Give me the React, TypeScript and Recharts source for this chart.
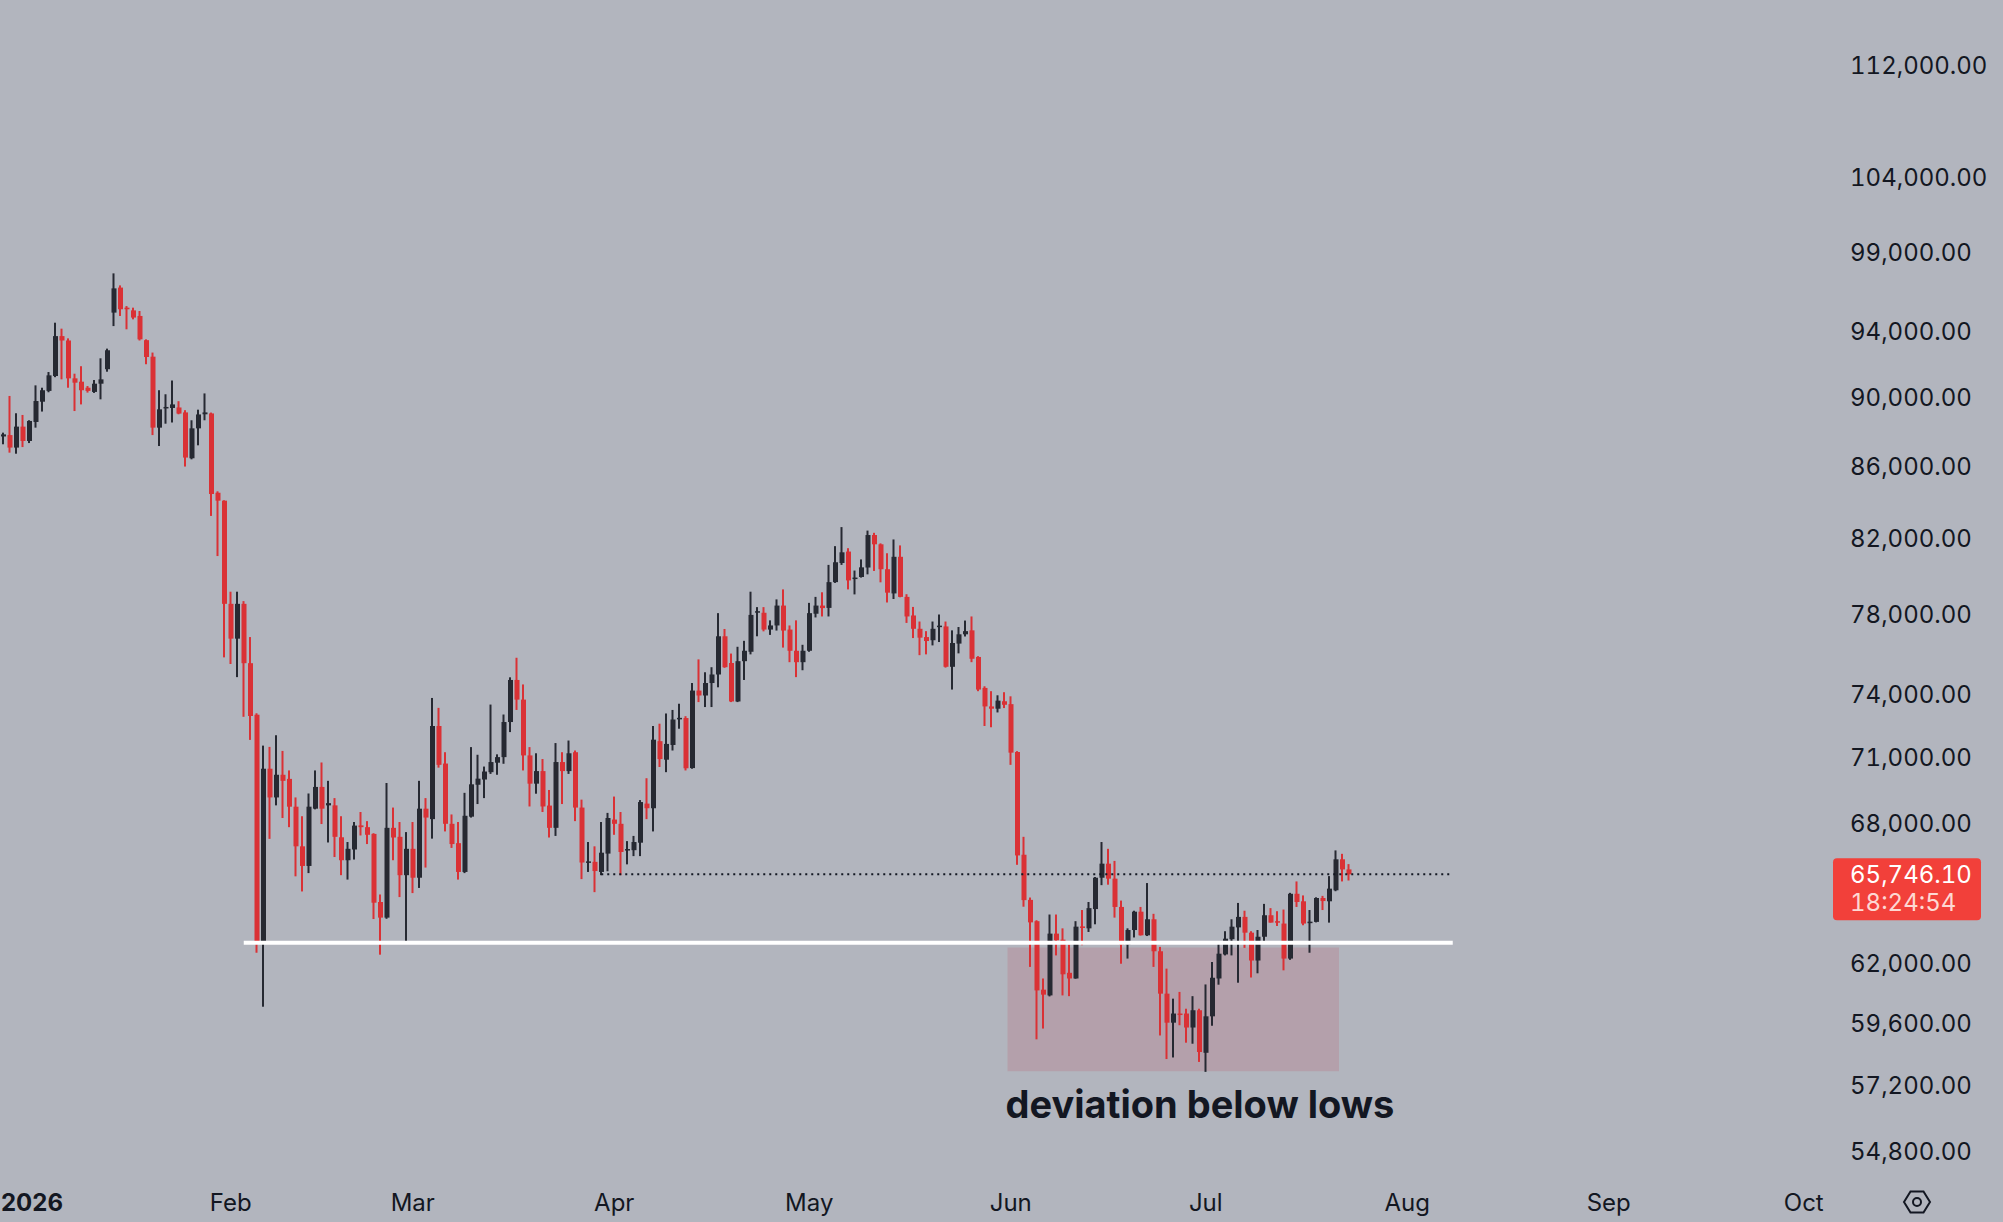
import React from 'react';
import { ComposedChart, Bar, XAxis, YAxis, ReferenceLine, ReferenceArea } from 'recharts';

// daily candles from 2025-12-28; the axis runs on past the last candle
const START_DAY = Date.UTC(2025, 11, 28);
const AXIS_DAYS = 282;

const opens = [
  87710, 87790, 87070, 88280, 87450, 88550, 89740, 90380, 91270, 93700,
  93430, 91130, 90930, 90570, 90320, 90810, 91680, 95160, 96740, 95470,
  95300, 94950, 93450, 92440, 88220, 89350, 89370, 89400, 89110, 86460,
  88180, 89000, 89050, 84520, 84080, 78560, 76780, 78560, 75550, 73030,
  62830, 70480, 69160, 70200, 70010, 68740, 66970, 66110, 68650, 69640,
  68800, 68800, 67370, 66360, 66830, 67900, 67820, 67520, 64560, 63900,
  67790, 67390, 65710, 66860, 65600, 68650, 68180, 72490, 70720, 67970,
  67110, 65850, 68290, 69740, 69980, 70320, 70760, 71020, 72680, 74720,
  73760, 71100, 69790, 70370, 68790, 67790, 70790, 70370, 71250, 68700,
  66290, 66290, 65850, 66650, 68160, 67970, 66810, 66800, 67130, 68880,
  68670, 71770, 70900, 71590, 72860, 72870, 70510, 74200, 73960, 74570,
  74990, 76900, 75560, 73670, 75650, 76120, 78130, 78100, 77240, 77450,
  78470, 77240, 76170, 75600, 76170, 78050, 78470, 78350, 79690, 80700,
  81310, 79900, 79960, 80460, 82200, 81700, 80370, 79100, 81030, 78920,
  77960, 77280, 76860, 76700, 77380, 77400, 75370, 76530, 77000, 77200,
  75860, 74330, 73430, 73320, 73680, 73540, 71260, 66600, 64650, 63750,
  60940, 60710, 63230, 62980, 61620, 61390, 63530, 63450, 64260, 65600,
  66210, 65560, 64350, 62780, 63380, 64150, 63160, 63830, 62500, 60780,
  59630, 59990, 59990, 59440, 60120, 58460, 59880, 61390, 62370, 63000,
  63490, 63930, 63270, 62120, 63100, 64000, 63750, 63650, 62200, 64910,
  64590, 63710, 63720, 64730, 64590, 65060, 66400, 65960,
];

const highs = [
  87930, 90080, 89060, 88960, 88650, 90710, 90570, 91510, 94530, 94160,
  93560, 91410, 91860, 90670, 91030, 92340, 92930, 97650, 96880, 95570,
  95470, 95260, 93500, 92690, 90420, 90180, 91000, 89770, 89240, 88650,
  89270, 90230, 89100, 84600, 84100, 79190, 79190, 78700, 76860, 73100,
  71560, 71500, 72050, 71310, 70400, 69160, 68310, 69340, 70400, 70770,
  69920, 69130, 68310, 67160, 68050, 68500, 68090, 67550, 64880, 69820,
  68700, 68050, 67600, 68050, 69920, 69130, 73840, 73360, 71250, 68390,
  68050, 69370, 71490, 71130, 70580, 73520, 71150, 73040, 74850, 75820,
  74500, 71490, 71200, 70930, 69500, 71680, 71250, 71800, 71330, 69060,
  67160, 66970, 68050, 68460, 69200, 68500, 67200, 67430, 69040, 70040,
  72490, 72600, 73090, 73260, 73560, 72960, 74570, 75740, 75100, 75350,
  78080, 77270, 76030, 76370, 76670, 79190, 78390, 78390, 77710, 78790,
  79310, 77450, 77710, 76470, 78610, 78920, 79160, 80600, 81600, 82630,
  81490, 80300, 80890, 82440, 82320, 81750, 81220, 81960, 81640, 79060,
  78400, 77650, 77160, 77650, 78010, 77650, 77200, 77370, 77700, 77910,
  75900, 74410, 74170, 73970, 74120, 73920, 71300, 67390, 64750, 63790,
  61390, 64030, 64030, 63450, 62780, 63750, 64220, 64560, 65630, 67160,
  66860, 66330, 64620, 63450, 64190, 64350, 65370, 64060, 62680, 61790,
  60580, 60850, 60180, 60680, 60180, 61150, 62060, 62820, 63330, 63830,
  64520, 64190, 63330, 63380, 64480, 64300, 64170, 64240, 64950, 65440,
  64840, 64220, 64760, 64820, 65670, 66790, 66640, 66190,
];

const lows = [
  87260, 86780, 86720, 87100, 87330, 88220, 89160, 90300, 91200, 91070,
  90570, 89190, 89580, 90280, 90260, 89880, 91530, 94320, 94950, 94120,
  94740, 93430, 91980, 87790, 87160, 88450, 88520, 89000, 85990, 86400,
  87200, 88650, 83240, 81070, 75840, 75510, 74860, 72930, 71830, 62440,
  60260, 67300, 68800, 68230, 67820, 65660, 65010, 65800, 68620, 67960,
  67140, 66500, 65710, 65520, 66390, 67450, 67070, 63840, 62360, 63850,
  66360, 64770, 62910, 64940, 65160, 66040, 67310, 70530, 67630, 66900,
  65520, 65800, 68250, 68860, 69130, 70240, 70200, 70710, 72200, 73260,
  70400, 68750, 69330, 68500, 67360, 67430, 68860, 70240, 68090, 65540,
  65850, 64980, 65710, 65880, 67480, 65710, 66180, 66540, 66540, 68180,
  67630, 70560, 70320, 71330, 72360, 70400, 70480, 73640, 73400, 73400,
  74360, 75320, 73640, 73640, 74720, 75990, 76900, 77150, 76970, 77190,
  76330, 75600, 74860, 75200, 76120, 77860, 77910, 77910, 79650, 80600,
  79310, 79050, 79930, 80100, 80280, 79680, 78630, 78810, 78900, 77580,
  76810, 75950, 75990, 76440, 76610, 75330, 74250, 76040, 76890, 75600,
  74170, 72490, 72430, 73140, 73350, 70660, 66160, 64360, 61860, 58980,
  59400, 60670, 62330, 60710, 60680, 61380, 62750, 63300, 63620, 65280,
  65300, 63900, 61990, 62200, 63070, 63150, 63130, 61860, 59130, 58220,
  58280, 59530, 58850, 58810, 58110, 57730, 59510, 61140, 62330, 62330,
  61220, 62640, 61430, 61600, 62820, 63690, 63550, 61720, 62150, 64350,
  63580, 62440, 63700, 64220, 63690, 65020, 65440, 65480,
];

const closes = [
  87830, 87070, 88280, 87450, 88610, 89780, 90420, 91310, 93700, 93430,
  91130, 90870, 90420, 90380, 90810, 91070, 92830, 96690, 95370, 95370,
  94850, 93500, 92420, 88220, 89290, 89430, 89580, 89040, 86500, 88180,
  88990, 89110, 84450, 84080, 78560, 76780, 78560, 75550, 72970, 62830,
  70480, 69160, 70200, 69920, 68740, 66970, 66110, 68740, 69640, 68650,
  68900, 67390, 66360, 66860, 67890, 67820, 67480, 64530, 63900, 67790,
  67360, 65710, 66860, 65600, 68650, 68250, 72490, 70660, 67970, 67070,
  65850, 68330, 69760, 70020, 70350, 70790, 71020, 72680, 74720, 73760,
  71100, 69790, 70370, 68750, 67790, 70790, 70370, 71200, 68700, 66260,
  66310, 65890, 66690, 68230, 67970, 66720, 66850, 67160, 68950, 68670,
  71840, 70930, 71640, 72800, 72880, 70500, 74200, 73960, 74570, 74990,
  76900, 75350, 73670, 75650, 76170, 77990, 78180, 77240, 77450, 78470,
  77190, 76170, 75600, 76170, 78080, 78470, 78340, 79690, 80740, 81270,
  79780, 79930, 80470, 82200, 81700, 80370, 79140, 81030, 78920, 77910,
  77280, 76830, 76660, 77280, 77440, 75370, 76560, 77000, 77160, 75770,
  74250, 73430, 73320, 73710, 73510, 71230, 66570, 64640, 63700, 60910,
  60740, 63230, 62950, 61560, 61390, 63520, 63500, 64300, 65600, 66210,
  65560, 64350, 62780, 63380, 64150, 63160, 63830, 62500, 60780, 59630,
  59990, 59960, 59440, 60120, 58490, 59880, 61420, 62400, 63020, 63520,
  63930, 63270, 62120, 63100, 64000, 63690, 63720, 62200, 64910, 64560,
  63650, 63730, 64730, 64600, 65130, 66400, 65960, 65746.1,
];

const priceTicks = [
  112000, 104000, 99000, 94000, 90000, 86000, 82000, 78000,
  74000, 71000, 68000, 62000, 59600, 57200, 54800,
];

const monthLabels: Record<string, string> = {
  '2026-01-01': '2026',
  '2026-02-01': 'Feb',
  '2026-03-01': 'Mar',
  '2026-04-01': 'Apr',
  '2026-05-01': 'May',
  '2026-06-01': 'Jun',
  '2026-07-01': 'Jul',
  '2026-08-01': 'Aug',
  '2026-09-01': 'Sep',
  '2026-10-01': 'Oct',
};

const lastPrice = 65746.1;
const countdown = '18:24:54';
const supportLevel = 62850;
const supportFrom = '2026-02-03';
const lineEnd = '2026-08-08';
const priceLineFrom = '2026-03-30';
const zoneFrom = '2026-06-01';
const zoneTo = '2026-07-21';
const zoneTop = 62650;
const zoneBottom = 57750;
const zoneText = 'deviation below lows';

const BG = '#b2b5be';
const UP = '#262932';
const DOWN = '#da3135';
const TEXT = '#131722';
const FONT = 'Inter, "Noto Sans", sans-serif';
const NUMS = { fontVariantNumeric: 'tabular-nums' } as const;

const rows = Array.from({ length: AXIS_DAYS }, (_, i) => {
  const date = new Date(START_DAY + i * 86400000).toISOString().slice(0, 10);
  if (i >= opens.length) return { date };
  return { date, o: opens[i], h: highs[i], l: lows[i], c: closes[i] };
});

const wickRange = (d: any) => (d.o == null ? null : [d.l, d.h]);
const bodyRange = (d: any) => (d.o == null ? null : [Math.min(d.o, d.c), Math.max(d.o, d.c)]);

function CandlePart(props: any) {
  const { x, y, width, height, payload } = props;
  if (!payload || payload.o == null || !isFinite(y) || !isFinite(height)) return null;
  const h = Math.max(Math.abs(height), 1.5);
  const top = height < 0 ? y + height : y;
  return (
    <rect x={x} y={top} width={width} height={h} fill={payload.c >= payload.o ? UP : DOWN} />
  );
}

function MonthTick(props: any) {
  const { x, y, payload } = props;
  const label = monthLabels[payload.value];
  if (!label) return <g />;
  const isYear = label === '2026';
  // the year label sits at the very left edge, keep it inside the picture
  const tx = isYear ? Math.max(1, x - 30) : x;
  return (
    <text
      x={tx}
      y={y}
      textAnchor={isYear ? 'start' : 'middle'}
      dominantBaseline="central"
      fill={TEXT}
      fontFamily={FONT}
      fontSize={24}
      fontWeight={isYear ? 700 : 400}
    >
      {label}
    </text>
  );
}

function PriceTick(props: any) {
  const { x, y, payload } = props;
  return (
    <text x={x} y={y} textAnchor="start" dominantBaseline="central" fill={TEXT} fontFamily={FONT} fontSize={24} style={NUMS}>
      {payload.value.toLocaleString('en-US', { minimumFractionDigits: 2, maximumFractionDigits: 2 })}
    </text>
  );
}

function PriceTag(props: any) {
  const vb = props.viewBox;
  if (!vb) return null;
  const left = vb.x + vb.width;
  const py = vb.y;
  return (
    <g>
      <rect x={left} y={py - 16} width={148} height={62} rx={4} fill="#f2403a" />
      <text x={left + 17} y={py} dominantBaseline="central" fill="#ffffff" fontFamily={FONT} fontSize={24} style={NUMS}>
        {lastPrice.toLocaleString('en-US', { minimumFractionDigits: 2 })}
      </text>
      <text x={left + 17} y={py + 28} dominantBaseline="central" fill="#fdd8d3" fontFamily={FONT} fontSize={24} style={NUMS}>
        {countdown}
      </text>
    </g>
  );
}

function ZoneLabel(props: any) {
  const vb = props.viewBox;
  if (!vb) return null;
  return (
    <text
      x={vb.x - 2}
      y={vb.y + vb.height + 47}
      fill={TEXT}
      fontFamily={FONT}
      fontSize={38}
      fontWeight={700}
    >
      {zoneText}
    </text>
  );
}

export default function App() {
  return (
    <div style={{ position: 'relative', width: 2003, height: 1222, background: BG }}>
      <style>{'body{margin:0;background:' + BG + ';}'}</style>
      <ComposedChart width={2003} height={1222} data={rows} margin={{ top: 0, right: 0, bottom: 0, left: 0 }}>
        <XAxis
          xAxisId="a"
          dataKey="date"
          height={52}
          interval={0}
          tickLine={false}
          axisLine={false}
          tickSize={0}
          tickMargin={32}
          tick={(p: any) => <MonthTick {...p} />}
        />
        <XAxis xAxisId="b" dataKey="date" hide height={0} />
        <YAxis
          yAxisId="p"
          orientation="right"
          type="number"
          scale="log"
          domain={[54119, 116902]}
          allowDataOverflow
          ticks={priceTicks}
          interval={0}
          width={170}
          tickLine={false}
          axisLine={false}
          tickSize={0}
          tickMargin={17}
          tick={(p: any) => <PriceTick {...p} />}
        />
        <ReferenceArea
          xAxisId="a"
          yAxisId="p"
          x1={zoneFrom}
          x2={zoneTo}
          y1={zoneBottom}
          y2={zoneTop}
          fill="#c05060"
          fillOpacity={0.2}
          stroke="none"
          label={(p: any) => <ZoneLabel {...p} />}
        />
        <Bar xAxisId="a" yAxisId="p" dataKey={wickRange} barSize={2} isAnimationActive={false} shape={(p: any) => <CandlePart {...p} />} />
        <Bar xAxisId="b" yAxisId="p" dataKey={bodyRange} barSize={5} isAnimationActive={false} shape={(p: any) => <CandlePart {...p} />} />
        <ReferenceLine
          xAxisId="a"
          yAxisId="p"
          segment={[{ x: supportFrom, y: supportLevel }, { x: lineEnd, y: supportLevel }]}
          stroke="#ffffff"
          strokeWidth={4}
        />
        <ReferenceLine
          xAxisId="a"
          yAxisId="p"
          segment={[{ x: priceLineFrom, y: lastPrice }, { x: lineEnd, y: lastPrice }]}
          stroke={TEXT}
          strokeWidth={2}
          strokeDasharray="2 4"
        />
        <ReferenceLine
          xAxisId="a"
          yAxisId="p"
          y={lastPrice}
          stroke="none"
          ifOverflow="visible"
          label={(p: any) => <PriceTag {...p} />}
        />
      </ComposedChart>
      <svg style={{ position: 'absolute', left: 1902, top: 1189 }} width={30} height={26}>
        <polygon points="2,13 8.5,2.5 21.5,2.5 28,13 21.5,23.5 8.5,23.5" fill="none" stroke={TEXT} strokeWidth={2} />
        <circle cx={15} cy={13} r={4} fill="none" stroke={TEXT} strokeWidth={2} />
      </svg>
    </div>
  );
}
